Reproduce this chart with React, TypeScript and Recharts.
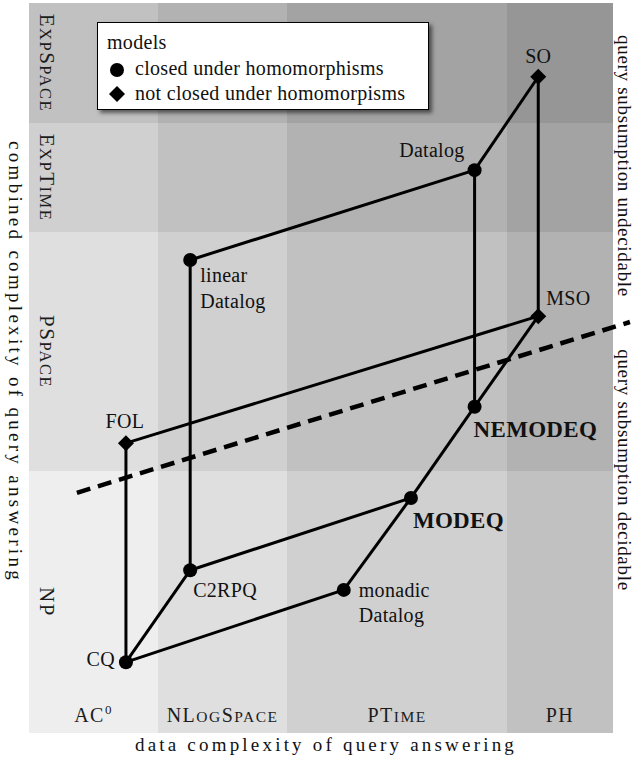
import React from 'react';
import {
  ComposedChart,
  XAxis,
  YAxis,
  Scatter,
  ReferenceArea,
  ReferenceLine,
  Legend,
  Label,
} from 'recharts';

const SERIF = '"Liberation Serif", "Times New Roman", Times, serif';

// ---- complexity classes (bands) ----
const dataClasses = ['AC0', 'NLogSpace', 'PTime', 'PH'];
const dataClassBounds = [0, 22.1, 44.2, 81.85, 100];
const combinedClasses = ['NP', 'PSpace', 'ExpTime', 'ExpSpace'];
const combinedClassBounds = [0, 35.9, 68.6, 83.6, 100];
const cellShades = ['#eeeeee', '#dfdfdf', '#d0d0d0', '#c1c1c1', '#b2b2b2', '#a3a3a3', '#969696'];

// ---- models ----
const modelNames = ['CQ', 'C2RPQ', 'monadic Datalog', 'MODEQ', 'NEMODEQ', 'MSO', 'SO', 'Datalog', 'linear Datalog', 'FOL'];
const modelDataComplexity = [16.6, 27.6, 53.9, 65.4, 76.3, 87.2, 87.2, 76.3, 27.6, 16.6];
const modelCombinedComplexity = [9.7, 22.3, 19.6, 32.2, 44.7, 57.1, 89.9, 77.1, 64.8, 39.7];
const modelClosedUnderHom = [true, true, true, true, true, false, false, true, true, false];

// ---- inclusions (edges) ----
const edgeFrom = ['CQ', 'CQ', 'CQ', 'C2RPQ', 'C2RPQ', 'linear Datalog', 'FOL', 'monadic Datalog', 'MODEQ', 'NEMODEQ', 'NEMODEQ', 'Datalog', 'MSO'];
const edgeTo = ['FOL', 'C2RPQ', 'monadic Datalog', 'linear Datalog', 'MODEQ', 'Datalog', 'MSO', 'MODEQ', 'NEMODEQ', 'MSO', 'Datalog', 'SO', 'SO'];

// ---- decidability boundary ----
const boundaryX = [8.2, 102.9];
const boundaryY = [32.9, 56.3];

// ---- texts ----
const legendTitle = 'models';
const legendLabels = ['closed under homomorphisms', 'not closed under homomorpisms'];
const xTitle = 'data complexity of query answering';
const yTitle = 'combined complexity of query answering';
const rightTitles = ['query subsumption undecidable', 'query subsumption decidable'];

// label styling per model (pixel offsets from marker)
const labelLayout: Record<string, { dx: number; dy: number; anchor: 'start' | 'middle' | 'end'; bold?: boolean; lines?: string[]; lh?: number }> = {
  CQ: { dx: -11, dy: 4, anchor: 'end' },
  C2RPQ: { dx: 3, dy: 27, anchor: 'start' },
  'monadic Datalog': { dx: 15, dy: 7, anchor: 'start', lines: ['monadic', 'Datalog'], lh: 25 },
  MODEQ: { dx: 2, dy: 30, anchor: 'start', bold: true },
  NEMODEQ: { dx: -1, dy: 30, anchor: 'start', bold: true },
  MSO: { dx: 8, dy: -11, anchor: 'start' },
  SO: { dx: 0, dy: -14, anchor: 'middle' },
  Datalog: { dx: -10, dy: -13, anchor: 'end' },
  'linear Datalog': { dx: 10, dy: 22, anchor: 'start', lines: ['linear', 'Datalog'], lh: 26 },
  FOL: { dx: -1, dy: -15, anchor: 'middle' },
};

const models = modelNames.map((name, i) => ({
  name,
  x: modelDataComplexity[i],
  y: modelCombinedComplexity[i],
  closed: modelClosedUnderHom[i],
}));
const byName = (n: string) => models.find((m) => m.name === n)!;
const edges = edgeFrom.map((f, i) => [byName(f), byName(edgeTo[i])]);

type Seg = { t: string; kind: 'big' | 'small' | 'sup' };
function classSegments(label: string): Seg[] {
  const segs: Seg[] = [];
  for (const ch of label) {
    const kind: Seg['kind'] = /[A-Z]/.test(ch) ? 'big' : /[0-9]/.test(ch) ? 'sup' : 'small';
    const t = kind === 'small' ? ch.toUpperCase() : ch;
    if (segs.length && segs[segs.length - 1].kind === kind) segs[segs.length - 1].t += t;
    else segs.push({ t, kind });
  }
  return segs;
}

function ClassText({ label, x, y, big, small, rotate, spacing }: any) {
  const segs = classSegments(label);
  return (
    <text
      x={x}
      y={y}
      textAnchor="middle"
      fontFamily={SERIF}
      fill="#1c1c1c"
      letterSpacing={spacing}
      transform={rotate ? `rotate(90 ${x} ${y})` : undefined}
    >
      {segs.map((s, i) => (
        <tspan
          key={i}
          fontSize={s.kind === 'big' ? big : s.kind === 'small' ? small : 13}
          dy={s.kind === 'sup' ? -8 : i > 0 && segs[i - 1].kind === 'sup' ? 8 : 0}
        >
          {s.t}
        </tspan>
      ))}
    </text>
  );
}

const diamondPath = (cx: number, cy: number, r: number) =>
  `M${cx},${cy - r}L${cx + r},${cy}L${cx},${cy + r}L${cx - r},${cy}Z`;

const renderModel = (diamond: boolean) => (props: any) => {
  const { cx, cy, payload } = props;
  const lay = labelLayout[payload.name];
  const lines = lay.lines ?? [payload.name];
  return (
    <g>
      {diamond ? (
        <path d={diamondPath(cx, cy, 8)} fill="#000" />
      ) : (
        <circle cx={cx} cy={cy} r={7} fill="#000" />
      )}
      <text
        x={cx + lay.dx}
        y={cy + lay.dy}
        textAnchor={lay.anchor}
        fontFamily={SERIF}
        fontSize={lay.bold ? 23 : 20}
        fontWeight={lay.bold ? 'bold' : 'normal'}
        letterSpacing={0.3}
        fill="#111"
      >
        {lines.map((l, i) => (
          <tspan key={i} x={cx + lay.dx} dy={i === 0 ? 0 : lay.lh}>
            {l}
          </tspan>
        ))}
      </text>
    </g>
  );
};

const renderLegend = () => (
  <div
    style={{
      width: 332,
      height: 88,
      boxSizing: 'border-box',
      border: '1px solid #000',
      background: '#fff',
      boxShadow: '3px 3px 4px rgba(0,0,0,0.55)',
    }}
  >
    <svg width={330} height={86} style={{ display: 'block' }}>
      <text x={9} y={26} fontFamily={SERIF} fontSize={20} letterSpacing={0.3} fill="#111">
        {legendTitle}
      </text>
      <circle cx={19} cy={47} r={7} fill="#000" />
      <text x={37} y={52} fontFamily={SERIF} fontSize={20} letterSpacing={0.3} fill="#111">
        {legendLabels[0]}
      </text>
      <path d={diamondPath(19, 71, 8)} fill="#000" />
      <text x={37} y={77} fontFamily={SERIF} fontSize={20} letterSpacing={0.3} fill="#111">
        {legendLabels[1]}
      </text>
    </svg>
  </div>
);

export default function App() {
  return (
    <div style={{ position: 'absolute', left: 0, top: 0, background: '#fff' }}>
      <ComposedChart width={636} height={760} margin={{ top: 3, right: 0, bottom: 0, left: 0 }}>
        <XAxis
          type="number"
          dataKey="x"
          domain={[0, 100]}
          allowDataOverflow
          tick={false}
          tickLine={false}
          axisLine={false}
          height={27}
        >
          <Label
            content={({ viewBox }: any) => (
              <text
                x={viewBox.x + viewBox.width / 2 + 5}
                y={viewBox.y + 18}
                textAnchor="middle"
                fontFamily={SERIF}
                fontSize={19}
                letterSpacing={3.2}
                fill="#111"
              >
                {xTitle}
              </text>
            )}
          />
        </XAxis>
        <YAxis
          type="number"
          dataKey="y"
          domain={[0, 100]}
          allowDataOverflow
          tick={false}
          tickLine={false}
          axisLine={false}
          width={29}
        >
          <Label
            content={({ viewBox }: any) => {
              const x = viewBox.x + 9;
              const y = viewBox.y + viewBox.height / 2 - 6;
              return (
                <text
                  x={x}
                  y={y}
                  textAnchor="middle"
                  fontFamily={SERIF}
                  fontSize={19}
                  letterSpacing={3.3}
                  fill="#111"
                  transform={`rotate(90 ${x} ${y})`}
                >
                  {yTitle}
                </text>
              );
            }}
          />
        </YAxis>
        <YAxis
          yAxisId="r"
          orientation="right"
          type="number"
          dataKey="y"
          domain={[0, 100]}
          allowDataOverflow
          tick={false}
          tickLine={false}
          axisLine={false}
          width={23}
        >
          <Label
            content={({ viewBox }: any) => {
              const x = viewBox.x + 5;
              const ys = [viewBox.y + 163, viewBox.y + 467];
              return (
                <g>
                  {rightTitles.map((t, i) => (
                    <text
                      key={i}
                      x={x}
                      y={ys[i]}
                      textAnchor="middle"
                      fontFamily={SERIF}
                      fontSize={19}
                      letterSpacing={0.7}
                      fill="#111"
                      transform={`rotate(90 ${x} ${ys[i]})`}
                    >
                      {t}
                    </text>
                  ))}
                </g>
              );
            }}
          />
        </YAxis>

        {combinedClasses.map((_, j) =>
          dataClasses.map((__, i) => (
            <ReferenceArea
              key={`cell-${i}-${j}`}
              x1={dataClassBounds[i]}
              x2={dataClassBounds[i + 1]}
              y1={combinedClassBounds[j]}
              y2={combinedClassBounds[j + 1]}
              fill={cellShades[i + j]}
              fillOpacity={1}
              stroke="none"
              shapeRendering="crispEdges"
            />
          ))
        )}

        {dataClasses.map((c, i) => (
          <ReferenceArea
            key={`col-${c}`}
            x1={dataClassBounds[i]}
            x2={dataClassBounds[i + 1]}
            y1={0}
            y2={100}
            fill="none"
            stroke="none"
          >
            <Label
              content={({ viewBox }: any) => (
                <ClassText
                  label={c}
                  x={viewBox.x + viewBox.width / 2}
                  y={viewBox.y + viewBox.height - 11}
                  big={20}
                  small={15.5}
                  spacing={1.5}
                />
              )}
            />
          </ReferenceArea>
        ))}

        {combinedClasses.map((c, j) => (
          <ReferenceArea
            key={`row-${c}`}
            x1={0}
            x2={100}
            y1={combinedClassBounds[j]}
            y2={combinedClassBounds[j + 1]}
            fill="none"
            stroke="none"
          >
            <Label
              content={({ viewBox }: any) => (
                <ClassText
                  label={c}
                  x={viewBox.x + 11}
                  y={viewBox.y + viewBox.height / 2}
                  big={21}
                  small={16.5}
                  spacing={1.5}
                  rotate
                />
              )}
            />
          </ReferenceArea>
        ))}

        <ReferenceLine
          segment={[
            { x: boundaryX[0], y: boundaryY[0] },
            { x: boundaryX[1], y: boundaryY[1] },
          ]}
          stroke="#000"
          strokeWidth={4.5}
          strokeDasharray="14 8"
          ifOverflow="visible"
        />

        {edges.map(([a, b], i) => (
          <Scatter
            key={`edge-${i}`}
            data={[a, b]}
            dataKey="y"
            line={{ stroke: '#000', strokeWidth: 3 }}
            shape={() => <g />}
            legendType="none"
            isAnimationActive={false}
          />
        ))}

        <Scatter
          name={legendLabels[0]}
          data={models.filter((m) => m.closed)}
          dataKey="y"
          shape={renderModel(false)}
          isAnimationActive={false}
        />
        <Scatter
          name={legendLabels[1]}
          data={models.filter((m) => !m.closed)}
          dataKey="y"
          shape={renderModel(true)}
          isAnimationActive={false}
        />

        <Legend
          layout="vertical"
          align="center"
          verticalAlign="middle"
          content={renderLegend}
          wrapperStyle={{ left: 97, top: 22, width: 332, height: 88 }}
        />
      </ComposedChart>
    </div>
  );
}
